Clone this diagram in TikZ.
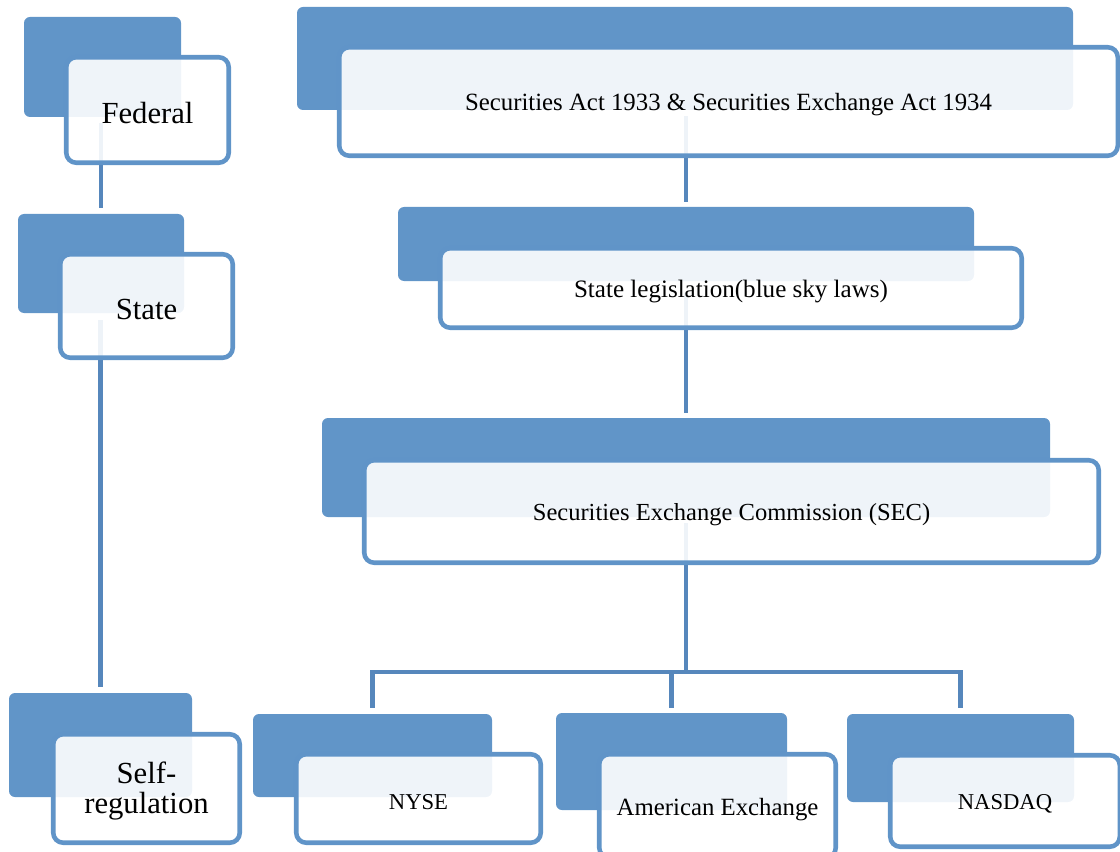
\documentclass[tikz,border=0pt]{standalone}
\usepackage{fontspec}
\setmainfont{Liberation Serif}
\usetikzlibrary{calc}
\definecolor{backblue}{RGB}{97,149,200}
\definecolor{edgeblue}{RGB}{96,148,200}
\definecolor{connblue}{RGB}{86,135,188}
\tikzset{
  backbox/.style={fill=backblue, draw=none, rounded corners=4.5pt, inner sep=0pt, outer sep=0pt},
  frontbox/.style={fill=white, fill opacity=0.9, text opacity=1, draw=edgeblue, line width=3.4pt, rounded corners=7.5pt, inner sep=0pt, outer sep=0pt, align=center, text=black},
  conn/.style={draw=connblue, line width=3.6pt}
}
\newcommand\backbox[5]{\node[backbox, minimum width={(#4-#2)*0.75pt}, minimum height={(#5-#3)*0.75pt}] (#1) at ({(#2+#4)/2},{(#3+#5)/2}) {};}
\newcommand\frontbox[7]{\node[frontbox, minimum width={(#4-#2-4.5)*0.75pt}, minimum height={(#5-#3-4.5)*0.75pt}, font=#6] (#1) at ({(#2+#4)/2},{(#3+#5)/2}) {\raisebox{-2.4pt}[\height][\depth]{#7}};}
\begin{document}
\begin{tikzpicture}[x=0.75pt, y=-0.75pt]
\useasboundingbox (0,0) rectangle (1120,852);
\clip (0,0) rectangle (1120,852);
% back boxes
\backbox{fedB}{24}{17}{181}{117}
\backbox{stB}{18}{214}{184}{313}
\backbox{srB}{9}{693}{192}{797}
\backbox{secactB}{297}{7}{1073}{110}
\backbox{legB}{398}{207}{974}{281}
\backbox{secB}{322}{418}{1050}{517}
\backbox{nyB}{253}{714}{492}{797}
\backbox{amB}{556}{713}{787}{810}
\backbox{ndB}{847}{714}{1074}{802}
% connectors
\draw[conn] ($(stB.north |- fedB.south)+(0,6)$) -- ($(stB.north)+(0,-6)$);
\draw[conn] ($(srB.north |- stB.south)+(0,7)$) -- ($(srB.north)+(0,-6)$);
\draw[conn] ($(legB.north |- secactB.south)+(0,6)$) -- ($(legB.north)+(0,-5)$);
\draw[conn] ($(secB.north |- legB.south)+(0,12)$) -- ($(secB.north)+(0,-5)$);
\draw[conn] ($(secB.south)+(0,6)$) |- ($(nyB.north)+(0,-42)$) -- ($(nyB.north)+(0,-6)$);
\draw[conn] ($(secB.south)+(0,6)$) |- ($(ndB.north)+(0,-42)$) -- ($(ndB.north)+(0,-6)$);
\draw[conn] ($(amB.north)+(0,-41)$) -- ($(amB.north)+(0,-5)$);
% front boxes
\frontbox{fed}{64}{55}{231}{165}{\fontsize{23pt}{22pt}\selectfont}{Federal}
\frontbox{st}{58}{252}{235}{360}{\fontsize{23pt}{22pt}\selectfont}{State}
\frontbox{sr}{51}{732}{242}{845}{\fontsize{23pt}{21.75pt}\selectfont}{\begin{tabular}{@{}c@{}}Self-\\regulation\end{tabular}}
\frontbox{secact}{337}{45}{1120}{158}{\fontsize{18.6pt}{22pt}\selectfont}{Securities Act 1933 \& Securities Exchange Act 1934}
\frontbox{leg}{438}{246}{1024}{330}{\fontsize{18.8pt}{22pt}\selectfont}{State legislation(blue sky laws)}
\frontbox{sec}{362}{458}{1101}{565}{\fontsize{18.4pt}{22pt}\selectfont}{Securities Exchange Commission (SEC)}
\frontbox{ny}{294}{752}{543}{845}{\fontsize{17pt}{20pt}\selectfont}{NYSE}
\frontbox{am}{597}{752}{838}{860}{\fontsize{18.6pt}{22pt}\selectfont}{American Exchange}
\frontbox{nd}{888}{753}{1122}{849}{\fontsize{17pt}{20pt}\selectfont}{NASDAQ}
\end{tikzpicture}
\end{document}
